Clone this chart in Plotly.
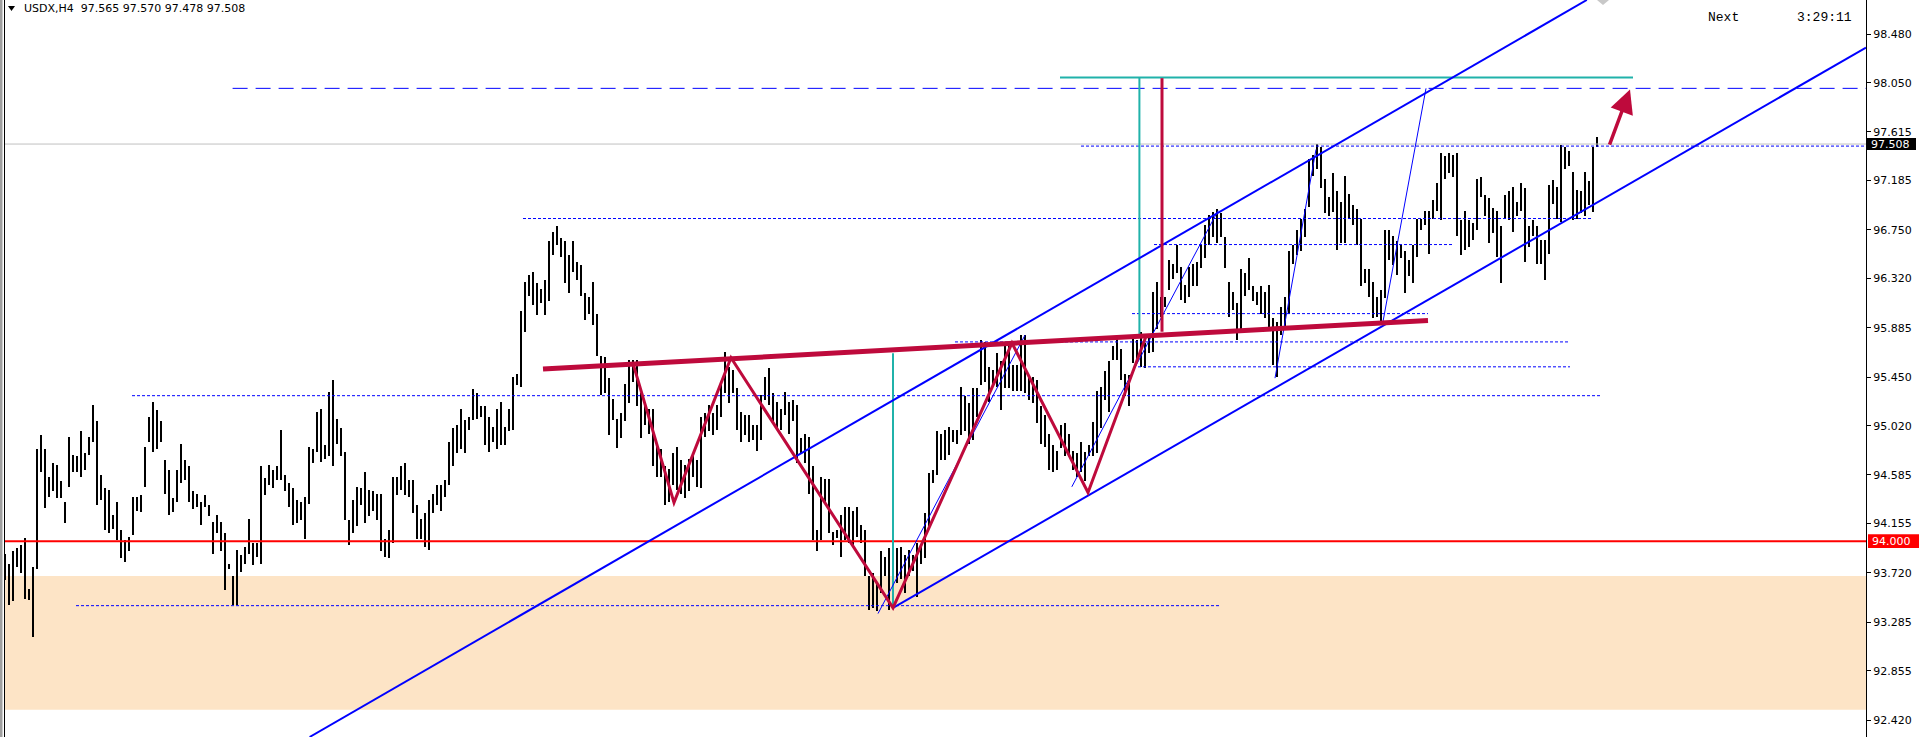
import plotly.graph_objects as go

# ---------------- DATA ----------------
# USDX H4 bars, highs and lows, oldest -> newest (grouped by chart section)
highs_1 = [93.89, 93.80, 93.91, 93.94, 93.97, 94.03, 93.58, 93.77, 94.81, 94.94, 94.81, 94.57, 94.69, 94.67, 94.53,
           94.35, 94.92, 94.76, 94.75, 94.97, 94.78, 94.92, 95.20, 95.06, 94.58, 94.47, 94.45, 94.23, 94.35, 94.10,
           94.01, 94.04, 94.39, 94.39, 94.41, 94.83, 95.10, 95.23, 95.16, 95.06, 94.72, 94.63, 94.38, 94.63, 94.86,
           94.72, 94.66, 94.44, 94.42, 94.35, 94.41, 94.32, 94.17, 94.23, 94.17, 94.07, 93.80, 93.69, 93.92, 93.88,
           93.95, 94.20, 93.98, 93.98, 94.66, 94.56, 94.67, 94.63, 94.66]
lows_1 = [93.66, 93.44, 93.47, 93.77, 93.72, 93.49, 93.48, 93.15, 93.75, 94.61, 94.29, 94.39, 94.44, 94.38, 94.38,
          94.16, 94.48, 94.61, 94.61, 94.57, 94.63, 94.76, 94.88, 94.32, 94.36, 94.10, 94.07, 94.11, 94.01, 93.85,
          93.82, 93.91, 94.05, 94.27, 94.26, 94.48, 94.88, 94.79, 94.81, 94.88, 94.42, 94.23, 94.26, 94.35, 94.51,
          94.54, 94.35, 94.28, 94.30, 94.14, 94.30, 94.22, 93.89, 94.07, 93.91, 93.57, 93.75, 93.44, 93.44, 93.73,
          93.80, 93.89, 93.79, 93.86, 93.80, 94.41, 94.50, 94.47, 94.54]

highs_2 = [94.98, 94.58, 94.51, 94.47, 94.36, 94.35, 94.39, 94.83, 94.81, 95.14, 95.17, 94.85, 95.32, 95.42, 95.08,
           95.00, 94.79, 94.19, 94.36, 94.48, 94.47, 94.61, 94.45, 94.44, 94.42, 94.42, 94.02, 94.10, 94.57, 94.57,
           94.66, 94.69, 94.54, 94.54, 94.32, 94.20, 94.25, 94.36, 94.42, 94.50, 94.50, 94.54, 94.88, 95.00, 95.03,
           95.17, 95.07, 95.10, 95.34, 95.31, 95.19, 95.19, 95.10, 95.01, 95.17, 95.23, 95.01, 95.17, 95.45, 95.48,
           96.03, 96.29, 96.35, 96.38, 96.28, 96.23, 96.31, 96.65, 96.73, 96.78]
lows_2 = [94.54, 94.44, 94.30, 94.14, 94.16, 94.19, 94.02, 94.33, 94.69, 94.79, 94.70, 94.73, 94.75, 94.66, 94.86,
          94.75, 94.19, 93.97, 94.07, 94.13, 94.32, 94.16, 94.22, 94.27, 94.19, 93.91, 93.86, 93.85, 93.98, 94.41,
          94.45, 94.41, 94.39, 94.25, 94.02, 94.02, 93.95, 93.92, 94.25, 94.32, 94.27, 94.39, 94.50, 94.66, 94.78,
          94.81, 94.78, 94.98, 95.07, 95.08, 95.10, 94.85, 94.79, 94.88, 94.81, 94.85, 94.85, 94.97, 94.98, 95.38,
          95.36, 95.85, 96.17, 96.09, 96.00, 96.10, 96.00, 96.12, 96.53, 96.62]

highs_3 = [96.68, 96.65, 96.53, 96.65, 96.47, 96.44, 96.19, 96.16, 96.29, 96.01, 95.64, 95.63, 95.44, 95.26, 95.08,
           95.13, 95.39, 95.60, 95.60, 95.60, 95.31, 95.19, 95.17, 95.17, 94.83, 94.81, 94.66, 94.64, 94.78, 94.83,
           94.72, 94.67, 94.73, 94.78, 94.72, 95.10, 95.13, 95.20, 95.13, 95.20, 95.41, 95.67, 95.54, 95.51, 95.35,
           95.14, 95.11, 95.11, 95.03, 95.03, 95.29, 95.45, 95.53, 95.31, 95.23, 95.17, 95.32, 95.23, 95.25, 95.20,
           94.91, 94.95, 94.92, 94.66, 94.10, 94.57, 94.55, 94.55, 94.08, 94.10]
lows_3 = [96.51, 96.28, 96.19, 96.38, 96.31, 96.17, 95.95, 96.01, 95.91, 95.64, 95.29, 95.31, 94.94, 95.07, 94.82,
          94.91, 95.06, 95.22, 95.41, 95.19, 94.91, 95.03, 94.95, 94.66, 94.57, 94.57, 94.32, 94.35, 94.50, 94.45,
          94.42, 94.38, 94.44, 94.57, 94.48, 94.47, 94.92, 94.97, 94.94, 94.98, 95.10, 95.31, 95.22, 95.31, 94.98,
          94.88, 94.94, 94.88, 94.89, 94.80, 94.89, 95.25, 95.20, 95.06, 94.98, 94.98, 95.11, 94.95, 95.06, 94.69,
          94.78, 94.69, 94.42, 94.01, 93.91, 94.01, 94.35, 94.07, 93.97, 94.03]

highs_4 = [94.23, 94.30, 94.30, 94.27, 94.30, 94.14, 94.10, 93.69, 93.72, 93.63, 93.91, 93.86, 93.94, 93.92, 93.94,
           93.95, 93.88, 93.92, 93.88, 93.98, 93.95, 94.25, 94.60, 94.63, 94.97, 94.95, 94.98, 95.01, 94.98, 94.98,
           95.36, 95.28, 95.22, 95.35, 95.35, 95.78, 95.76, 95.54, 95.51, 95.66, 95.59, 95.75, 95.75, 95.56, 95.56,
           95.82, 95.82, 95.47, 95.45, 95.42, 95.19, 95.11, 94.95, 94.85, 94.80, 95.03, 95.04, 94.95, 94.80, 94.78,
           94.88, 94.79, 94.85, 95.05, 95.33, 95.36, 95.50, 95.59, 95.72, 95.81]
lows_4 = [93.86, 94.01, 93.98, 93.97, 94.04, 93.98, 93.69, 93.39, 93.41, 93.38, 93.54, 93.69, 93.39, 93.57, 93.63,
          93.67, 93.54, 93.69, 93.74, 93.51, 93.80, 93.85, 94.13, 94.51, 94.58, 94.72, 94.72, 94.76, 94.88, 94.86,
          94.94, 94.97, 94.86, 94.89, 95.10, 95.38, 95.41, 95.23, 95.36, 95.36, 95.16, 95.35, 95.35, 95.33, 95.33,
          95.33, 95.31, 95.25, 95.22, 95.04, 94.86, 94.83, 94.63, 94.61, 94.63, 94.82, 94.75, 94.75, 94.63, 94.57,
          94.61, 94.53, 94.75, 94.75, 94.78, 95.00, 95.25, 95.14, 95.60, 95.60]

highs_5 = [95.70, 95.48, 95.47, 95.79, 95.78, 95.85, 95.75, 95.81, 96.20, 96.29, 96.16, 96.16, 96.48, 96.45, 96.62,
           96.42, 96.26, 96.42, 96.45, 96.47, 96.62, 96.79, 96.88, 96.91, 96.93, 96.90, 96.69, 96.29, 96.20, 96.10,
           96.40, 96.37, 96.50, 96.25, 96.20, 96.25, 96.20, 96.26, 95.97, 95.94, 96.07, 96.16, 96.56, 96.62, 96.75,
           96.85, 96.93, 97.38, 97.41, 97.51, 97.48, 97.20, 97.04, 97.25, 97.09, 97.00, 97.23, 97.07, 96.97, 96.93,
           96.85, 96.40, 96.40, 96.29, 96.16, 96.22, 96.75]
lows_5 = [95.42, 95.28, 95.19, 95.57, 95.57, 95.54, 95.53, 95.66, 95.67, 95.87, 95.98, 96.07, 96.22, 96.32, 96.37,
          96.13, 96.10, 96.16, 96.25, 96.25, 96.41, 96.50, 96.62, 96.69, 96.63, 96.69, 96.41, 95.98, 96.04, 95.78,
          95.84, 96.17, 96.22, 96.12, 96.09, 96.01, 95.97, 95.88, 95.56, 95.45, 95.82, 95.87, 96.01, 96.45, 96.53,
          96.56, 96.69, 96.95, 97.23, 97.29, 97.12, 96.90, 96.87, 96.91, 96.57, 96.63, 96.63, 96.85, 96.79, 96.62,
          96.25, 96.28, 96.16, 95.97, 95.98, 95.94, 96.15]

highs_6 = [96.75, 96.70, 96.65, 96.62, 96.56, 96.48, 96.62, 96.85, 96.85, 96.92, 96.92, 97.01, 97.16, 97.43, 97.40,
           97.43, 97.41, 97.43, 96.84, 96.92, 96.84, 96.81, 97.20, 97.22, 97.06, 97.03, 96.94, 96.92, 96.78, 97.06,
           97.09, 97.13, 97.00, 97.16, 97.12, 96.78, 96.84, 96.78, 96.66, 96.66, 97.15, 97.19, 97.13, 97.50, 97.48,
           97.45, 97.26, 97.10, 97.09, 97.26, 97.18, 97.48, 97.570]
lows_6 = [96.48, 96.44, 96.35, 96.50, 96.19, 96.34, 96.28, 96.51, 96.75, 96.79, 96.54, 96.85, 96.92, 96.84, 97.20,
          97.25, 97.22, 96.70, 96.53, 96.57, 96.60, 96.66, 96.75, 97.04, 96.87, 96.63, 96.72, 96.51, 96.28, 96.85,
          96.84, 96.73, 96.87, 96.92, 96.47, 96.60, 96.70, 96.45, 96.45, 96.31, 96.54, 96.98, 96.85, 96.82, 97.29,
          97.31, 96.84, 96.85, 96.90, 96.87, 96.97, 96.91, 97.478]

last_bar_open, last_bar_high, last_bar_low, last_bar_close = 97.565, 97.570, 97.478, 97.508
symbol = "USDX,H4"
support_level = 94.000
zone_top, zone_bottom = 93.692, 92.51
target_level = 98.00

tick_labels = ["98.480", "98.050", "97.615", "97.185", "96.750", "96.320", "95.885", "95.450",
               "95.020", "94.585", "94.155", "93.720", "93.285", "92.855", "92.420"]

highs = highs_1 + highs_2 + highs_3 + highs_4 + highs_5 + highs_6
lows = lows_1 + lows_2 + lows_3 + lows_4 + lows_5 + lows_6
bar_index = list(range(len(highs)))

# ---------------- LAYOUT GEOMETRY ----------------
W, H = 1919, 737
PLOT_W = 1866            # right price scale starts here
X_RANGE = [-1.25, 465.25]
Y_RANGE = [92.2698, 98.7805]

BLUE = "#0000FF"
CRIMSON = "#BE0A3C"
TEAL = "#20B2AA"


def px(xp):
    return xp / PLOT_W


def py(yp):
    return 1 - yp / H


fig = go.Figure()
fig.add_trace(go.Bar(
    x=bar_index, y=[h - l for h, l in zip(highs, lows)], base=lows, width=0.375,
    marker=dict(color="#000000", line=dict(width=0)), hoverinfo="skip", showlegend=False))

shapes = []


def seg(x0, y0, x1, y1, color, width, dash="solid", xref="x"):
    shapes.append(dict(type="line", xref=xref, yref="y", x0=x0, y0=y0, x1=x1, y1=y1,
                       line=dict(color=color, width=width, dash=dash), layer="above"))


# demand zone
shapes.append(dict(type="rect", xref="paper", yref="y", x0=px(5), x1=1, y0=zone_bottom, y1=zone_top,
                   fillcolor="#FDE4C6", line=dict(width=0), layer="below"))
# window borders
shapes.append(dict(type="rect", xref="paper", yref="paper", x0=0, x1=px(2.5), y0=0, y1=1,
                   fillcolor="#A0A0A0", line=dict(width=0), layer="above"))
shapes.append(dict(type="line", xref="paper", yref="paper", x0=px(4.5), x1=px(4.5), y0=0, y1=1,
                   line=dict(color="#000000", width=1), layer="above"))

# current price line & support line
seg(px(5), last_bar_close, 1, last_bar_close, "#C0C0C0", 1, xref="paper")
seg(px(5), support_level, 1, support_level, "#FF0000", 2, xref="paper")

# dotted horizontal levels (start index, end index, price)
dotted_levels = [(269, 465.25, 97.49), (129.5, 397, 96.85), (287.25, 362, 96.62), (281.75, 355.75, 96.01),
                 (237.5, 391.25, 95.76), (283.25, 391.25, 95.54), (31.75, 398.75, 95.285), (17.75, 303.75, 93.43)]
for x0, x1, lvl in dotted_levels:
    seg(x0, lvl, x1, lvl, BLUE, 1, dash="3px,2px")

# target dashed line
seg(56.9, target_level, 465.25, target_level, BLUE, 1, dash="15px,8px")

# teal measurement lines
seg(263.75, 98.096, 407, 98.096, TEAL, 2)
seg(283.6, 98.096, 283.6, 95.82, TEAL, 2)
seg(222, 95.66, 222, 93.41, TEAL, 2)

# channel lines
seg(76.15, 92.2698, 395.45, 98.7805, BLUE, 2)
seg(222, 93.41, 465.25, 98.36, BLUE, 2)

# thin trend lines
for (a, b, c, d) in [(218.25, 93.36, 255, 95.82), (266.7, 94.48, 303.25, 96.92),
                     (317.5, 95.44, 327.75, 97.46), (344.5, 95.94, 355.25, 98.0)]:
    seg(a, b, c, d, BLUE, 1)

# crimson pattern: neckline, zigzag, vertical
seg(134.5, 95.52, 355.75, 95.95, CRIMSON, 5)
zig = [(157, 95.57), (167.25, 94.34), (181.5, 95.62), (222, 93.41), (251.75, 95.75), (270.75, 94.43),
       (285.25, 95.81)]
path = "M " + " L ".join(f"{a},{b}" for a, b in zig)
shapes.append(dict(type="path", xref="x", yref="y", path=path, line=dict(color=CRIMSON, width=3),
                   layer="above"))
seg(289.25, 98.09, 289.25, 95.85, CRIMSON, 3)

# price boxes on the scale
shapes.append(dict(type="rect", xref="paper", yref="y", x0=px(1868), x1=px(1919),
                   y0=support_level - 0.06, y1=support_level + 0.06, fillcolor="#FF0000",
                   line=dict(width=0), layer="above"))
shapes.append(dict(type="rect", xref="paper", yref="y", x0=px(1867), x1=px(1916),
                   y0=last_bar_close - 0.053, y1=last_bar_close + 0.053, fillcolor="#000000",
                   line=dict(width=0), layer="above"))

# header triangle and top gray marker
shapes.append(dict(type="path", xref="paper", yref="paper",
                   path=f"M {px(8)},{py(6)} L {px(15)},{py(6)} L {px(11.5)},{py(11)} Z",
                   fillcolor="#000000", line=dict(width=0), layer="above"))
shapes.append(dict(type="path", xref="paper", yref="paper",
                   path=f"M {px(1597)},{py(0)} L {px(1609)},{py(0)} L {px(1603)},{py(5)} Z",
                   fillcolor="#C8C8C8", line=dict(width=0), layer="above"))

annotations = [
    dict(xref="paper", yref="paper", x=px(22), y=py(8.5), xanchor="left", yanchor="middle", showarrow=False,
         text=f"{symbol}\u00a0\u00a0{last_bar_open:.3f} {last_bar_high:.3f} {last_bar_low:.3f} {last_bar_close:.3f}",
         font=dict(family="DejaVu Sans", size=11, color="#000000")),
    dict(xref="paper", yref="paper", x=px(1706), y=py(17), xanchor="left", yanchor="middle", showarrow=False,
         text="Next", font=dict(family="Liberation Mono", size=13, color="#000000")),
    dict(xref="paper", yref="paper", x=px(1795), y=py(17), xanchor="left", yanchor="middle", showarrow=False,
         text="3:29:11", font=dict(family="Liberation Mono", size=13, color="#000000")),
    dict(xref="paper", yref="y", x=px(1870), y=support_level, xanchor="left", yanchor="middle",
         showarrow=False, text=f"{support_level:.3f}",
         font=dict(family="DejaVu Sans", size=11, color="#FFFFFF")),
    dict(xref="paper", yref="y", x=px(1869), y=last_bar_close, xanchor="left", yanchor="middle",
         showarrow=False, text=f"{last_bar_close:.3f}",
         font=dict(family="DejaVu Sans", size=11, color="#FFFFFF")),
    # projection arrow
    dict(xref="x", yref="y", axref="x", ayref="y", x=406.25, y=97.99, ax=401, ay=97.49,
         showarrow=True, arrowhead=2, arrowsize=1.35, arrowwidth=3.5, arrowcolor=CRIMSON, text=""),
]

fig.update_layout(
    width=W, height=H, margin=dict(l=0, r=W - PLOT_W, t=0, b=0),
    paper_bgcolor="#FFFFFF", plot_bgcolor="#FFFFFF", template="none",
    showlegend=False, hovermode=False, bargap=0,
    shapes=shapes, annotations=annotations,
    xaxis=dict(range=X_RANGE, visible=False, fixedrange=True),
    yaxis=dict(range=Y_RANGE, side="right", showgrid=False, zeroline=False,
               tickvals=[float(t) for t in tick_labels], ticktext=tick_labels,
               ticks="outside", ticklen=4, tickcolor="#000000", tickwidth=1,
               showline=True, linecolor="#000000", linewidth=1, automargin=False,
               tickfont=dict(family="DejaVu Sans", size=11, color="#000000"), fixedrange=True),
)

fig.write_html("out.html")
